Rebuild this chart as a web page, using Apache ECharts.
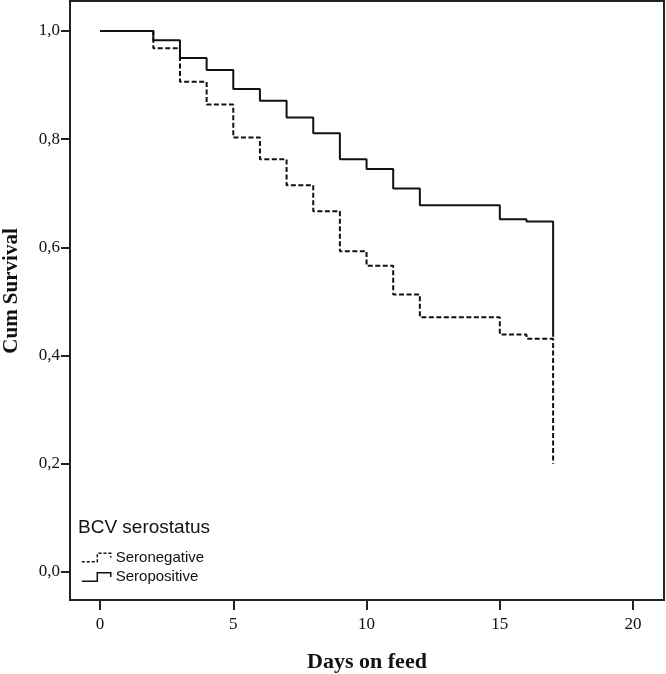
<!DOCTYPE html>
<html>
<head>
<meta charset="utf-8">
<script src="https://cdn.jsdelivr.net/npm/echarts@6/dist/echarts.min.js"></script>
<style>html,body{margin:0;padding:0;background:#fff}#c{width:666px;height:674px}</style>
</head>
<body>
<div id="c"></div>
<script>
// Days on feed at which survival steps
const seronegativeDays   = [0, 2, 3, 4, 5, 6, 7, 8, 9, 10, 11, 12, 15, 16, 17];
const seronegativeValues = [1.0, 0.968, 0.906, 0.864, 0.803, 0.763, 0.715, 0.667, 0.593, 0.566, 0.513, 0.471, 0.439, 0.431, 0.200];
const seropositiveDays   = [0, 2, 3, 4, 5, 6, 7, 8, 9, 10, 11, 12, 15, 16, 17];
const seropositiveValues = [1.0, 0.983, 0.950, 0.928, 0.893, 0.871, 0.840, 0.811, 0.763, 0.745, 0.709, 0.678, 0.652, 0.648, 0.435];
const xTicks = [0, 5, 10, 15, 20];
const yTicks = [0, 0.2, 0.4, 0.6, 0.8, 1.0];
const seriesNames = ['Seronegative', 'Seropositive'];
const legendTitle = 'BCV serostatus';
const xName = 'Days on feed';
const yName = 'Cum Survival';

const pair = (xs, ys) => xs.map((x, i) => [x, ys[i]]);
const serif = 'Liberation Serif, Times New Roman, serif';
const sans = 'Liberation Sans, Arial, sans-serif';

const chart = echarts.init(document.getElementById('c'));
chart.setOption({
  animation: false,
  backgroundColor: '#fff',
  title: {
    text: legendTitle, left: 78, top: 518, padding: 0,
    textStyle: { fontFamily: sans, fontSize: 19, fontWeight: 'normal', color: '#111' }
  },
  legend: {
    orient: 'vertical', left: 81, top: 550, padding: 0,
    itemWidth: 29, itemHeight: 9, itemGap: 4.5,
    textStyle: { fontFamily: sans, fontSize: 15, color: '#111' },
    data: [
      { name: seriesNames[0], icon: 'path://M0,9 L15,9 L15,1 L28,1 L28,5',
        itemStyle: { color: 'transparent', borderColor: '#111', borderWidth: 1.5, borderType: [3, 2] } },
      { name: seriesNames[1], icon: 'path://M0,9 L15,9 L15,1 L28,1 L28,5',
        itemStyle: { color: 'transparent', borderColor: '#111', borderWidth: 1.5, borderType: 'solid' } }
    ]
  },
  grid: { left: 70, right: 2, top: 1, bottom: 74, show: true, borderColor: '#222', borderWidth: 2, outerBoundsMode: 'none' },
  xAxis: {
    type: 'value', min: -1.126, max: 21.16,
    name: xName, nameLocation: 'middle', nameGap: 51,
    nameTextStyle: { fontFamily: serif, fontSize: 22, fontWeight: 'bold', color: '#111' },
    axisLine: { show: true, onZero: false, lineStyle: { color: '#222', width: 2 } },
    axisTick: { show: true, length: 10, inside: false, customValues: xTicks, lineStyle: { color: '#222', width: 2 } },
    axisLabel: { customValues: xTicks, margin: 16, fontFamily: serif, fontSize: 17, color: '#111' },
    splitLine: { show: false }
  },
  yAxis: {
    type: 'value', min: -0.0518, max: 1.0555,
    name: yName, nameLocation: 'middle', nameGap: 48, nameRotate: 90,
    nameTextStyle: { fontFamily: serif, fontSize: 21, fontWeight: 'bold', color: '#111', padding: [0, 0, 0, 19] },
    axisLine: { show: true, onZero: false, lineStyle: { color: '#222', width: 2 } },
    axisTick: { show: true, length: 9, inside: false, customValues: yTicks, lineStyle: { color: '#222', width: 2 } },
    axisLabel: { customValues: yTicks, margin: 10, fontFamily: serif, fontSize: 17, color: '#111',
      formatter: v => v.toFixed(1).replace('.', ',') },
    splitLine: { show: false }
  },
  series: [
    { name: seriesNames[0], type: 'line', step: 'end', showSymbol: false, symbol: 'none',
      data: pair(seronegativeDays, seronegativeValues),
      lineStyle: { color: '#111', width: 2, type: [5, 2.5] }, itemStyle: { color: '#111' } },
    { name: seriesNames[1], type: 'line', step: 'end', showSymbol: false, symbol: 'none',
      data: pair(seropositiveDays, seropositiveValues),
      lineStyle: { color: '#111', width: 2 }, itemStyle: { color: '#111' } }
  ]
});
</script>
</body>
</html>
